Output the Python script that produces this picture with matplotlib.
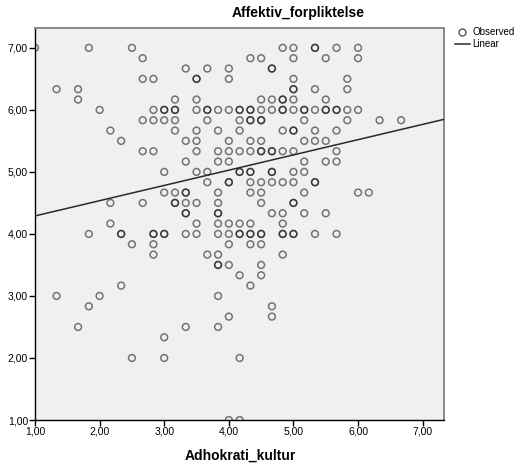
import numpy as np
import matplotlib
matplotlib.use("Agg")
import matplotlib.pyplot as plt
from matplotlib.lines import Line2D

plt.rcParams['font.family'] = ['Liberation Sans', 'DejaVu Sans']

# Data: scale scores are on a grid of sixths (value = 1 + k/6).
# Each entry: y (in sixths above 1) -> list of x (in sixths above 1)
rows_y = [36, 35, 34, 33, 32, 31, 30, 29, 28, 27, 26, 25, 24, 23, 22, 21, 20,
          19, 18, 17, 16, 15, 14, 13, 12, 11, 10, 9, 8, 6, 0]
rows_x = [
    [0, 5, 9, 23, 24, 26, 28, 30],
    [10, 20, 21, 24, 27, 30],
    [14, 16, 18, 22],
    [10, 11, 15, 18, 24, 29],
    [2, 4, 24, 26, 29],
    [4, 13, 15, 21, 22, 23, 24, 27],
    [6, 11, 12, 13, 15, 16, 17, 18, 19, 20, 21, 22, 23, 24, 25, 26, 27, 28, 29, 30],
    [10, 11, 12, 13, 16, 19, 20, 21, 25, 29, 32, 34],
    [7, 13, 15, 17, 19, 23, 24, 26, 28],
    [8, 14, 15, 18, 20, 21, 25, 26, 27],
    [10, 11, 15, 17, 18, 19, 20, 21, 22, 23, 24, 28],
    [14, 17, 18, 25, 27, 28],
    [12, 15, 16, 19, 20, 22, 24, 25],
    [16, 18, 20, 21, 22, 23, 24, 26],
    [12, 13, 14, 17, 20, 21, 25, 30, 31],
    [7, 10, 13, 14, 15, 17, 21, 24],
    [14, 17, 22, 23, 25, 27],
    [7, 15, 17, 18, 19, 20, 23],
    [5, 8, 11, 12, 14, 15, 17, 18, 19, 20, 21, 23, 24, 26, 28],
    [9, 11, 18, 20, 21],
    [11, 16, 17, 23],
    [17, 18, 21],
    [19, 21],
    [8, 20],
    [2, 6, 17],
    [5, 22],
    [18, 22],
    [4, 14, 17],
    [12],
    [9, 12, 19],
    [18, 19],
]
# repeated observations (drawn darker in the reference)
dup_x = [12, 13, 16, 20, 23, 25, 27, 28, 19, 15, 22, 24, 23, 24, 26, 20, 21, 21, 22,
         19, 20, 22, 18, 26, 14, 13, 24, 14, 17, 8, 11, 12, 19, 20, 21, 23, 24, 17]
dup_y = [30, 30, 30, 30, 30, 30, 30, 30, 30, 33, 34, 32, 31, 28, 36, 29, 29, 26, 26,
         24, 24, 24, 23, 23, 22, 21, 21, 20, 20, 18, 18, 18, 18, 18, 18, 18, 18, 15]

fit_intercept = 4.044
fit_slope = 0.246

x_ticks = [1, 2, 3, 4, 5, 6, 7]
x_ticklabels = ["1,00", "2,00", "3,00", "4,00", "5,00", "6,00", "7,00"]
y_ticks = [1, 2, 3, 4, 5, 6, 7]
y_ticklabels = ["1,00", "2,00", "3,00", "4,00", "5,00", "6,00", "7,00"]

xs, ys = [], []
for yv, xl in zip(rows_y, rows_x):
    for xv in xl:
        xs.append(1 + xv / 6)
        ys.append(1 + yv / 6)
for xv, yv in zip(dup_x, dup_y):
    xs.append(1 + xv / 6)
    ys.append(1 + yv / 6)
xs = np.array(xs)
ys = np.array(ys)

fig = plt.figure(figsize=(5.25, 4.69), dpi=100)
ax = fig.add_axes([35 / 525, 1 - 420 / 469, (444 - 35) / 525, (420 - 28) / 469])
ax.set_facecolor('#F0F0F0')
ax.set_xlim(1.0, 7.33)
ax.set_ylim(1.0, 7.32)

ax.scatter(xs, ys, s=24, facecolors='none', edgecolors=(0, 0, 0, 0.52),
           linewidths=1.1, zorder=3, clip_on=True)
xl = np.array([1.0, 7.33])
ax.plot(xl, fit_intercept + fit_slope * xl, color='#2a2a2a', lw=1.1, zorder=4)

ax.set_xticks(x_ticks)
ax.set_xticklabels(x_ticklabels)
ax.set_yticks(y_ticks)
ax.set_yticklabels(y_ticklabels)
ax.tick_params(axis='both', direction='out', length=4, width=1, colors='black',
               labelsize=7.5, pad=1)

for s in ['left', 'bottom']:
    ax.spines[s].set_color('black')
    ax.spines[s].set_linewidth(1.0)
for s in ['top', 'right']:
    ax.spines[s].set_color('#8a8a8a')
    ax.spines[s].set_linewidth(1.4)

fig.text(298 / 525, 1 - 13 / 469, 'Affektiv_forpliktelse', ha='center', va='center',
         fontsize=10, fontweight='bold')
fig.text(240 / 525, 1 - 456 / 469, 'Adhokrati_kultur', ha='center', va='center',
         fontsize=10, fontweight='bold')

handles = [Line2D([], [], marker='o', ls='none', markersize=5, markerfacecolor='none',
                  markeredgecolor='#555555', markeredgewidth=1.0),
           Line2D([], [], color='#2a2a2a', lw=1.1)]
fig.legend(handles, ['Observed', 'Linear'], loc='upper left',
           bbox_to_anchor=(455 / 525, 1 - 27 / 469), frameon=False, fontsize=7,
           handlelength=1.5, handletextpad=0.3, labelspacing=0.25, borderpad=0,
           borderaxespad=0)

fig.savefig('out.png', dpi=100)
